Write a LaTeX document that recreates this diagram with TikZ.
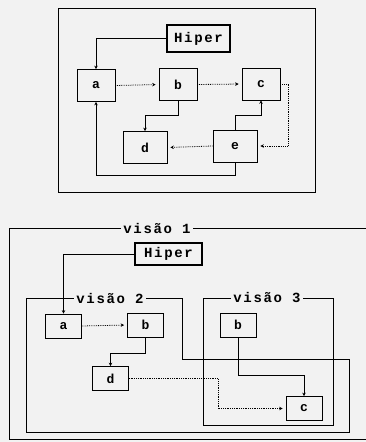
\documentclass[tikz,border=0pt]{standalone}
\usepackage{fontspec}
\setmonofont{Liberation Mono}
\newfontfamily\dotfont[LetterSpace=12]{Liberation Mono Bold}
\usetikzlibrary{arrows.meta}
\definecolor{bgc}{gray}{0.95}

\begin{document}
\begin{tikzpicture}[x=1pt,y=-1pt]
   \tikzstyle{box}=[draw,rectangle,inner sep=0pt,line width=0.7pt,font=\dotfont\fontsize{13}{13}\selectfont]
   \tikzstyle{tbox}=[box,minimum width=38pt,minimum height=32pt]
   \tikzstyle{wbox}=[box,minimum width=44pt,minimum height=32pt]
   \tikzstyle{lbox}=[box,minimum width=36pt,minimum height=24pt,anchor=center]
   \tikzstyle{hip}=[box,line width=1.5pt,font=\dotfont\fontsize{14}{14}\selectfont]
   \tikzstyle{ln}=[line width=1pt,-{Stealth[length=3.5pt,width=3.5pt]}]
   \tikzstyle{dln}=[ln,line width=0.8pt,densely dotted,shorten >=3pt]
   \tikzstyle{frm}=[line width=0.7pt]
   \tikzstyle{vname}=[fill=bgc,inner sep=2pt,font=\dotfont\fontsize{14}{14}\selectfont]

   \fill [bgc] (0,0) rectangle (366,442);
   \useasboundingbox (0,0) rectangle (366,442);

   % first picture
   \draw [frm] (58,8) rectangle (315,192);
   \node (hip1) [hip,minimum width=63pt,minimum height=27pt] at (198.5,38.5) {Hiper};
   \node (a1) [tbox] at (96,85.5) {a};
   \node (b1) [tbox] at (178,84.5) {b};
   \node (c1) [tbox] at (261,84) {c};
   \node (d1) [wbox] at (145,147.5) {d};
   \node (e1) [wbox] at (235,146) {e};
   \coordinate (ce) at (288,146);
   \draw [ln] (hip1.west) -| (a1.north);
   \draw [dln] (a1.east) -- (b1.west);
   \draw [dln] (b1.east) -- (c1.west);
   \draw [ln] (b1.south) -- (b1.south |- 0,115) -| (d1.north);
   \draw [ln] (e1.north) -- (e1.north |- 0,115) -| (c1.south);
   \draw [dln] (c1.east) -| (ce) -- (e1.east);
   \draw [dln] (e1.west) -- (d1.east);
   \draw [ln] (e1.south) -- (e1.south |- 0,175) -| (a1.south);

   % second picture
   \draw [frm] (366,228) -- (9,228) -- (9,439) -- (366,439);
   \draw [frm] (26,298) -- (182,298) -- (182,359) -- (349,359) -- (349,432) -- (26,432) -- cycle;
   \draw [frm] (203,298) rectangle (333,425);
   \node (v1) [vname] at (157,228) {visão 1};
   \node (v2) [vname] at (110,298) {visão 2};
   \node (v3) [vname] at (267,298) {visão 3};
   \node (hip2) [hip,minimum width=67pt,minimum height=22pt] at (168.5,254) {Hiper};
   \node (a2) [lbox] at (63.5,326) {a};
   \node (b2) [lbox] at (145.5,325) {b};
   \node (d2) [lbox] at (110.5,378.5) {d};
   \node (b3) [lbox] at (238,325) {b};
   \node (c3) [lbox] at (304,408.5) {c};
   \coordinate (dc) at (218,378.5);
   \draw [ln] (hip2.west) -| (a2.north);
   \draw [dln] (a2.east) -- (b2.west);
   \draw [ln] (b2.south) -- (b2.south |- 0,353) -| (d2.north);
   \draw [dln] (d2.east) -- (dc) |- (c3.west);
   \draw [ln] (b3.south) -- (b3.south |- 0,375) -| (c3.north);
\end{tikzpicture}
\end{document}
